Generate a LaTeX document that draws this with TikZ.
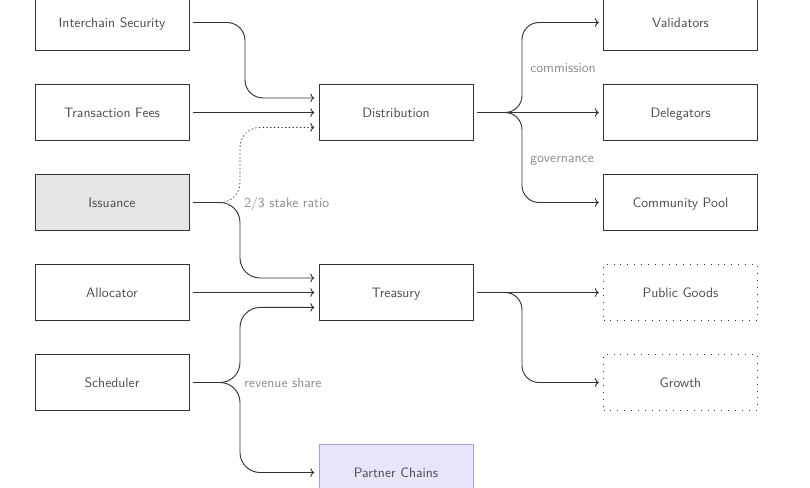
\documentclass[tikz,border=0pt]{standalone}
\usetikzlibrary{arrows.meta}
\definecolor{pcfill}{HTML}{E8E4FA}
\definecolor{pcdraw}{HTML}{A99BD8}
\definecolor{issfill}{HTML}{E6E6E6}
\begin{document}
\begin{tikzpicture}[x=0.75pt,y=-0.75pt,font=\sffamily\fontsize{10.25}{12}\selectfont,
  box/.style={draw=black!80, line width=0.7pt, minimum width=115.5pt, minimum height=42.4pt, inner sep=0pt, outer sep=0pt, text=black!70, text height=7pt, text depth=0pt},
  dotbox/.style={box, dash pattern=on 0.7pt off 4.5pt},
  flow/.style={draw=black!80, line width=0.7pt, -{To[length=3pt,width=6.5pt]}},
  lbl/.style={text=black!45, anchor=west, inner sep=0pt, text height=7pt, text depth=0pt}]
\useasboundingbox (0,0) rectangle (810,487);
% left column
\node[box] (is) at (112,22.5) {Interchain Security};
\node[box] (tf) at (112,112.5) {Transaction Fees};
\node[box, fill=issfill] (iss) at (112,202.5) {Issuance};
\node[box] (al) at (112,292.5) {Allocator};
\node[box] (sc) at (112,382.5) {Scheduler};
% middle column
\node[box] (di) at (396,112.5) {Distribution};
\node[box] (tr) at (396,292.5) {Treasury};
\node[box, fill=pcfill, draw=pcdraw] (pc) at (396,472.5) {Partner Chains};
% right column
\node[box] (va) at (680.5,22.5) {Validators};
\node[box] (de) at (680.5,112.5) {Delegators};
\node[box] (cp) at (680.5,202.5) {Community Pool};
\node[dotbox] (pg) at (680.5,292.5) {Public Goods};
\node[dotbox] (gr) at (680.5,382.5) {Growth};
% entry points
\coordinate (d1) at ([xshift=-3.5pt,yshift=10.9pt]di.west);
\coordinate (d2) at ([xshift=-3.5pt]di.west);
\coordinate (d3) at ([xshift=-3.5pt,yshift=-11.2pt]di.west);
\coordinate (t1) at ([xshift=-3.5pt,yshift=10.9pt]tr.west);
\coordinate (t2) at ([xshift=-3.5pt]tr.west);
\coordinate (t3) at ([xshift=-3.5pt,yshift=-11.2pt]tr.west);
\coordinate (issplit) at (220,202.5);
% into distribution
\draw[flow, rounded corners=13.5pt] ([xshift=3pt]is.east) -| (245,0 |- d1) -- (d1);
\draw[flow] ([xshift=3pt]tf.east) -- (d2);
\draw[flow, dash pattern=on 0.5pt off 2.3pt, line cap=round, rounded corners=15pt] (issplit) -| (240,0 |- d3) -- (d3);
% into treasury
\draw[flow, rounded corners=15pt] ([xshift=3pt]iss.east) -| (240,0 |- t1) -- (t1);
\draw[flow] ([xshift=3pt]al.east) -- (t2);
\draw[flow, rounded corners=15pt] ([xshift=3pt]sc.east) -| (240,0 |- t3) -- (t3);
\draw[flow, rounded corners=15pt] ([xshift=3pt]sc.east) -| (240,0 |- pc.west) -- ([xshift=-3.5pt]pc.west);
% out of distribution
\draw[flow, rounded corners=12.75pt] ([xshift=3pt]di.east) -| (522,0 |- va.west) -- ([xshift=-3.5pt]va.west);
\draw[flow] ([xshift=3pt]di.east) -- ([xshift=-3.5pt]de.west);
\draw[flow, rounded corners=12.75pt] ([xshift=3pt]di.east) -| (522,0 |- cp.west) -- ([xshift=-3.5pt]cp.west);
% out of treasury
\draw[flow] ([xshift=3pt]tr.east) -- ([xshift=-3.5pt]pg.west);
\draw[flow, rounded corners=12.75pt] ([xshift=3pt]tr.east) -| (522,0 |- gr.west) -- ([xshift=-3.5pt]gr.west);
% labels
\node[lbl] (lstake) at (244,202.5) {2/3 stake ratio};
\node[lbl] (lrev) at (244,382.5) {revenue share};
\node[lbl] (lcom) at (530,68) {commission};
\node[lbl] (lgov) at (530,158) {governance};
\end{tikzpicture}
\end{document}
